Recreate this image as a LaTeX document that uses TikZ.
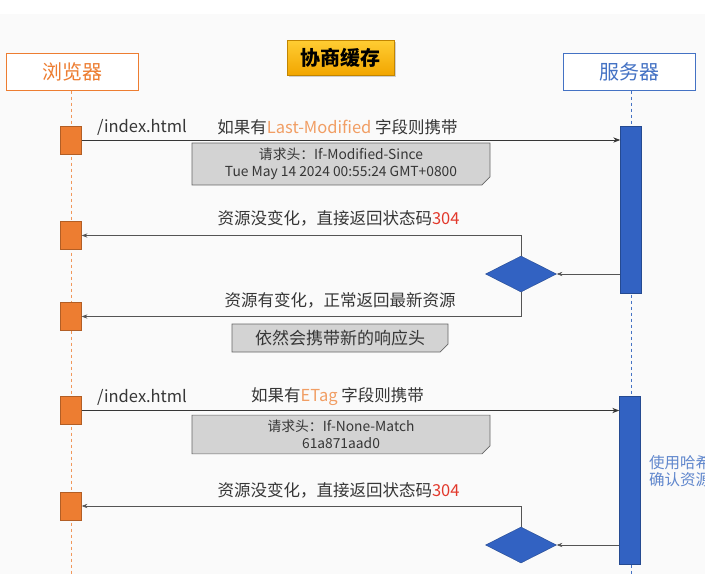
\documentclass[tikz,border=0pt]{standalone}
\usepackage{fontspec}
\newfontfamily\cjk{Noto Sans CJK SC}
\usetikzlibrary{positioning,shapes.geometric,shapes.misc,arrows.meta,shadows}
\definecolor{brorange}{HTML}{ED7D31}
\definecolor{svblue}{HTML}{4472C4}
\definecolor{barblue}{HTML}{3262C2}
\definecolor{txtgrey}{HTML}{363636}
\definecolor{notegrey}{HTML}{D3D3D3}
\definecolor{codered}{HTML}{E2382B}
\definecolor{goldtop}{HTML}{FFCD33}
\definecolor{goldbot}{HTML}{F2A600}

\begin{document}
\begin{tikzpicture}[x=1pt,y=-1pt,>=Stealth,font=\cjk,
    actor/.style={draw,line width=1pt,fill=white,minimum width=132pt,minimum height=37pt,font=\cjk\fontsize{20}{24}\selectfont},
    act/.style={fill=brorange,draw=brorange!75!black,minimum width=21pt,minimum height=28pt,inner sep=0pt},
    bar/.style={fill=barblue,draw=barblue!75!black,minimum width=21pt,inner sep=0pt},
    choice/.style={diamond,fill=barblue,draw=barblue!75!black,minimum width=71pt,minimum height=36pt,inner sep=0pt},
    req/.style={->,line width=0.9pt,draw=txtgrey},
    resp/.style={->,line width=0.6pt,draw=txtgrey!85},
    lbl/.style={text=txtgrey,font=\cjk\fontsize{16.5}{20}\selectfont,inner sep=1pt},
    note/.style={chamfered rectangle,chamfered rectangle corners=south east,chamfered rectangle xsep=4pt,chamfered rectangle ysep=4pt,
      fill=notegrey,draw=gray!80!black,line width=0.7pt,text=txtgrey,align=center,inner sep=1pt,font=\cjk\fontsize{13.8}{17}\selectfont}]
  \useasboundingbox (0,0) rectangle (705,574);
  \fill[white] (0,0) rectangle (705,14);
  \fill[gray!4] (0,14) rectangle (705,574);

  % actors and title
  \node[actor,draw=brorange,text=brorange] (browser) at (72,71.5) {浏览器};
  \node[actor,draw=svblue,text=svblue] (server) at (629.5,71.5) {服务器};
  \node[draw=goldbot!80!black,top color=goldtop,bottom color=goldbot,drop shadow={opacity=0.35},
    minimum width=107pt,minimum height=35pt,font=\cjk\fontsize{20}{24}\selectfont\bfseries] (title) at (340.5,57.5) {协商缓存};

  % lifelines
  \coordinate (bend) at (71,574);
  \coordinate (send) at (631,574);
  \draw[brorange!80!white,dashed,line width=0.8pt] (browser.south -| bend) -- (bend);
  \draw[svblue,dashed,line width=0.8pt] (server.south -| send) -- (send);

  % activations
  \node[act] (a1) at (71,140) {};
  \node[act] (a2) at (71,235.5) {};
  \node[act] (a3) at (71,316.5) {};
  \node[act] (a4) at (71,410.5) {};
  \node[act] (a5) at (71,506) {};
  \node[bar,minimum height=167pt] (b1) at (631,209.5) {};
  \node[bar,minimum height=168pt] (b2) at (630,480) {};
  \node[choice] (d1) at (521,274) {};
  \node[choice] (d2) at (521,545) {};

  % Last-Modified
  \draw[req] (a1.east) -- (a1.east -| b1.west);
  \node[lbl,anchor=west] (url1) at (96,127) {/index.html};
  \node[lbl] (ask1) at (337.5,127) {如果有\textcolor{brorange!75!white}{Last-Modified} 字段则携带};
  \node[note,minimum width=298pt,minimum height=38pt] (hd1) at (341,164) {请求头：If-Modified-Since\\Tue May 14 2024 00:55:24 GMT+0800};
  \draw[resp] (b1.west |- d1) -- (d1.east);
  \draw[resp] (d1.north) |- (a2.east);
  \draw[resp] (d1.south) |- (a3.east);
  \node[lbl] (same1) at (338.5,218) {资源没变化，直接返回状态码\textcolor{codered}{304}};
  \node[lbl] (new1) at (340,300) {资源有变化，正常返回最新资源};
  \node[note,minimum width=216pt,minimum height=28pt,font=\cjk\fontsize{17}{20}\selectfont] (hd2) at (340,338) {依然会携带新的响应头};

  % ETag
  \draw[req] (a4.east) -- (a4.east -| b2.west);
  \node[lbl,anchor=west] (url2) at (96,397) {/index.html};
  \node[lbl] (ask2) at (337.5,397) {如果有\textcolor{brorange!75!white}{ETag} 字段则携带};
  \node[note,minimum width=298pt,minimum height=37pt] (hd3) at (341,434.5) {请求头：If-None-Match\\61a871aad0};
  \draw[resp] (b2.west |- d2) -- (d2.east);
  \draw[resp] (d2.north) |- (a5.east);
  \node[lbl] (same2) at (338.5,490) {资源没变化，直接返回状态码\textcolor{codered}{304}};
  \node[anchor=north west,align=left,text=svblue!85!white,inner sep=0pt,font=\cjk\fontsize{15.5}{17.5}\selectfont] (hash) at (649,455) {使用哈希\\确认资源};
\end{tikzpicture}
\end{document}
